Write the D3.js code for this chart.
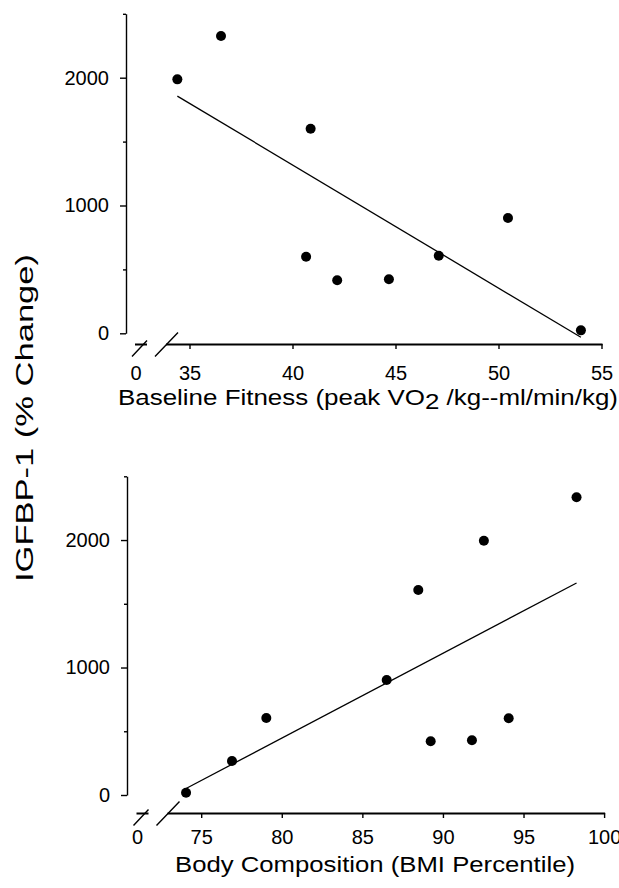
<!DOCTYPE html>
<html>
<head>
<meta charset="utf-8">
<script src="https://cdn.jsdelivr.net/npm/d3@7"></script>
<style>
  body { margin: 0; background: #fff; }
  text { font-family: "Liberation Sans", Arial, sans-serif; fill: #000; }
</style>
</head>
<body>
<div id="chart"></div>
<script>
const width = 619, height = 888;

// values
const fitness   = [34.41, 36.53, 40.88, 40.66, 42.17, 44.68, 47.10, 50.46, 54.0];
const igfTop    = [1987, 2326, 1601, 599, 415, 423, 607, 902, 23];
const bmi       = [74.06, 76.91, 79.04, 86.51, 89.24, 91.80, 94.08, 88.47, 92.54, 98.29];
const igfBottom = [18, 267, 604, 902, 421, 429, 602, 1608, 1995, 2335];

// regression line end points as drawn
const fitTopX = [34.41, 54.0], fitTopY = [1856, -31];
const fitBotX = [74.06, 98.29], fitBotY = [51, 1663];

const yTicks = [0, 1000, 2000];
const yMinor = [500, 1500, 2500];
const xTicksTop = [35, 40, 45, 50, 55];
const xTicksBottom = [75, 80, 85, 90, 95, 100];
const breakLabel = "0";

const svg = d3.select("#chart")
    .append("svg")
    .attr("width", width)
    .attr("height", height);

function drawPanel(p) {
    let x = d3.scaleLinear().domain(p.xDomain).range(p.xRange);
    let y = d3.scaleLinear().domain([0, 2500]).range([p.yZero, p.yTop]);

    // y axis, major ticks with labels
    let ya = svg.append("g")
        .attr("transform", `translate(${p.yAxisX},0)`)
        .call(d3.axisLeft(y).tickValues(yTicks).tickFormat(d3.format("d"))
            .tickSize(6).tickPadding(11).tickSizeOuter(0));
    ya.attr("font-size", 20).attr("font-family", "Liberation Sans, Arial, sans-serif");

    // minor ticks
    svg.append("g")
        .attr("transform", `translate(${p.yAxisX},0)`)
        .call(d3.axisLeft(y).tickValues(yMinor).tickSize(3).tickFormat(""))
        .call(g => g.select(".domain").remove());

    // x axis ticks and labels
    let xa = svg.append("g")
        .attr("transform", `translate(0,${p.xAxisY})`)
        .call(d3.axisBottom(x).tickValues(p.xTicks).tickSize(5).tickPadding(p.xPad).tickSizeOuter(0));
    xa.select(".domain").remove();
    xa.attr("font-size", 20).attr("font-family", "Liberation Sans, Arial, sans-serif");

    xa.append("text")
        .attr("x", p.xStart + 1)
        .attr("y", 5 + p.xPad)
        .attr("dy", "0.71em")
        .attr("text-anchor", "middle")
        .attr("fill", "#000")
        .text(breakLabel);

    svg.selectAll("path.domain, line").attr("stroke-width", 1.4);

    // axis line as filled bars, broken near the origin
    let x0 = p.xStart;
    svg.append("rect")
        .attr("x", x0).attr("y", p.xAxisY - 0.5)
        .attr("width", 12).attr("height", 2)
        .attr("fill", "#000");
    svg.append("rect")
        .attr("x", x0 + 31).attr("y", p.xAxisY - 0.5)
        .attr("width", x(p.xDomain[1]) + 1 - (x0 + 31)).attr("height", 2)
        .attr("fill", "#000");

    // the two slashes of the axis break
    svg.append("path")
        .attr("d", `M${x0 - 3},${p.xAxisY + 12.5}L${x0 + 12},${p.xAxisY - 3.5}` +
                   `M${x0 + 20},${p.xAxisY + 12.5}L${x0 + 43},${p.xAxisY - 11.5}`)
        .attr("fill", "none")
        .attr("stroke", "#000")
        .attr("stroke-width", 1.4);

    // fit line
    let line = d3.line()
        .x(d => x(d[0]))
        .y(d => y(d[1]));
    svg.append("path")
        .datum(d3.zip(p.fitX, p.fitY))
        .attr("d", line)
        .attr("fill", "none")
        .attr("stroke", "#000")
        .attr("stroke-width", 1.3);

    // points
    svg.append("g")
        .selectAll("circle")
        .data(d3.zip(p.xs, p.ys))
        .join("circle")
        .attr("cx", d => x(d[0]))
        .attr("cy", d => y(d[1]))
        .attr("r", 5)
        .attr("fill", "#000");
}

drawPanel({
    xs: fitness, ys: igfTop, fitX: fitTopX, fitY: fitTopY,
    xDomain: [35, 55], xRange: [189.5, 601.5], xTicks: xTicksTop,
    yAxisX: 126, yTop: 13.8, yZero: 333.3,
    xAxisY: 344, xStart: 135, xPad: 17
});

drawPanel({
    xs: bmi, ys: igfBottom, fitX: fitBotX, fitY: fitBotY,
    xDomain: [75, 100], xRange: [201.2, 604.1], xTicks: xTicksBottom,
    yAxisX: 127, yTop: 476.3, yZero: 795,
    xAxisY: 813, xStart: 136.5, xPad: 12
});

// axis titles
let t1 = svg.append("text")
    .attr("x", 368).attr("y", 405)
    .attr("text-anchor", "middle")
    .attr("font-size", 22)
    .attr("textLength", 500)
    .attr("lengthAdjust", "spacingAndGlyphs");
t1.append("tspan").text("Baseline Fitness (peak VO");
t1.append("tspan").attr("dy", 4).text("2");
t1.append("tspan").attr("dy", -4).text(" /kg--ml/min/kg)");

svg.append("text")
    .attr("x", 375).attr("y", 872)
    .attr("text-anchor", "middle")
    .attr("font-size", 22)
    .attr("textLength", 400)
    .attr("lengthAdjust", "spacingAndGlyphs")
    .text("Body Composition (BMI Percentile)");

svg.append("text")
    .attr("transform", "translate(33,418) rotate(-90)")
    .attr("text-anchor", "middle")
    .attr("font-size", 23)
    .attr("textLength", 328)
    .attr("lengthAdjust", "spacingAndGlyphs")
    .text("IGFBP-1 (% Change)");
</script>
</body>
</html>
